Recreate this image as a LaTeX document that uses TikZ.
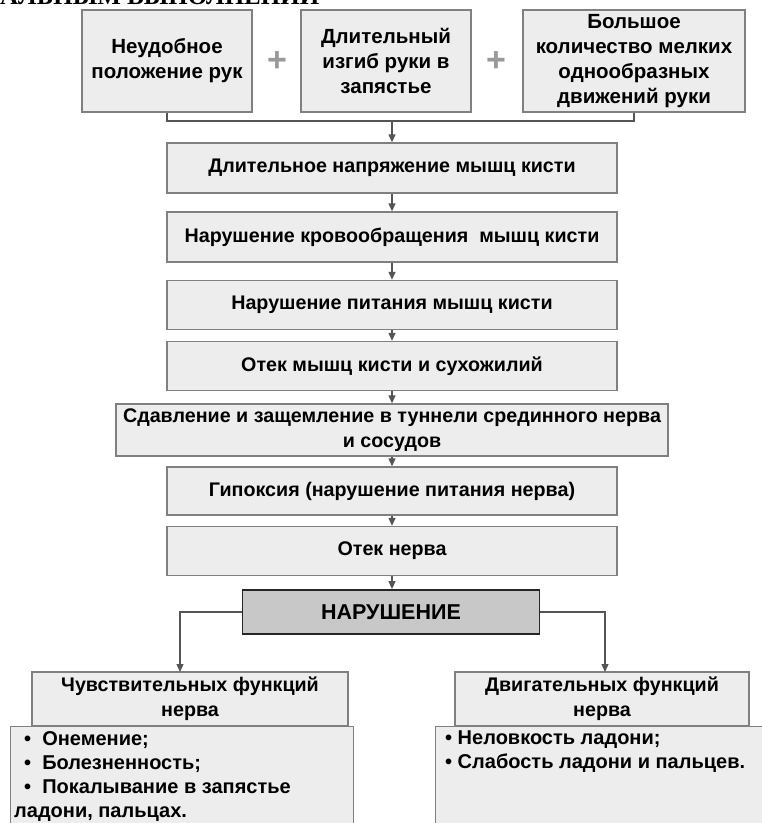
\documentclass[tikz,border=0pt]{standalone}
\usepackage{fontspec}
\setmainfont{Liberation Sans}
\newfontfamily\titlefont{Liberation Serif}
\usetikzlibrary{arrows.meta}
\definecolor{boxfill}{HTML}{EDEDED}
\definecolor{boxline}{HTML}{808080}
\definecolor{darkfill}{HTML}{C8C8C8}
\definecolor{arr}{HTML}{555555}
\tikzset{
  x=1pt, y=1pt,
  stepbox/.style={draw=boxline, fill=boxfill, line width=1.4pt, inner sep=2pt,
    align=center, font=\bfseries\fontsize{19.7}{25}\selectfont, text=black},
  topbox/.style={stepbox, font=\bfseries\fontsize{20.5}{25}\selectfont},
  keybox/.style={draw=black!85, fill=darkfill, line width=1.8pt, inner sep=2pt,
    align=center, font=\bfseries\fontsize{21.5}{24}\selectfont},
  listbox/.style={draw=boxline, fill=boxfill, line width=1.4pt},
  conn/.style={draw=arr, line width=1.3pt},
  arrow/.style={conn, -{Triangle[length=8pt,width=7pt]}},
  plus/.style={text=gray!80, font=\bfseries\fontsize{34}{34}\selectfont},
  listtext/.style={anchor=north west, align=left, inner sep=0pt,
    font=\bfseries\fontsize{20}{24}\selectfont}
}
\begin{document}
\begin{tikzpicture}
\useasboundingbox (0,0) rectangle (762,-823);
\clip (0,0) rectangle (762,-823);
% clipped heading remnant
\node[anchor=base west, inner sep=0pt, font=\titlefont\bfseries\fontsize{25}{25}\selectfont] (head) at (0,-4) {АЛЬНЫМ ВЫПОЛНЕНИИ};
% top causes
\node[topbox, minimum width=170, minimum height=102] (b1) at (167,-61) {Неудобное\\положение рук};
\node[topbox, minimum width=170, minimum height=102] (b2) at (386,-61) {Длительный\\изгиб руки в\\запястье};
\node[topbox, minimum width=222, minimum height=102] (b3) at (634,-61) {Большое\\количество мелких\\однообразных\\движений руки};
\node[plus] (p1) at (277,-62) {+};
\node[plus] (p2) at (496,-62) {+};
% chain
\node[stepbox, minimum width=450, minimum height=50] (b4) at (392,-168) {Длительное напряжение мышц кисти};
\node[stepbox, minimum width=450, minimum height=50] (b5) at (392,-237) {Нарушение кровообращения\ \ мышц кисти};
\node[stepbox, minimum width=450, minimum height=49] (b6) at (392,-305) {Нарушение питания мышц кисти};
\node[stepbox, minimum width=450, minimum height=49] (b7) at (392,-366) {Отек мышц кисти и сухожилий};
\node[stepbox, minimum width=552, minimum height=52] (b8) at (392,-430) {Сдавление и защемление в туннели срединного нерва\\и сосудов};
\node[stepbox, minimum width=450, minimum height=48] (b9) at (392,-491) {Гипоксия (нарушение питания нерва)};
\node[stepbox, minimum width=450, minimum height=49] (b10) at (392,-551) {Отек нерва};
\node[keybox, minimum width=297, minimum height=44] (b11) at (391,-612) {НАРУШЕНИЕ};
% branches
\node[stepbox, minimum width=316, minimum height=54] (b12) at (190,-699) {Чувствительных функций\\нерва};
\node[listbox, minimum width=343, minimum height=110, anchor=north west] (b13) at (10,-726) {};
\node[stepbox, minimum width=294, minimum height=54] (b14) at (602,-699) {Двигательных функций\\нерва};
\node[listbox, minimum width=340, minimum height=110, anchor=north west] (b15) at (435,-726) {};
\node[listtext] (t13) at (14,-731) {\hspace{10pt}•\ \ Онемение;\\\hspace{10pt}•\ \ Болезненность;\\\hspace{10pt}•\ \ Покалывание в запястье\\ладони, пальцах.};
\node[listtext] (t15) at (445,-731) {•\ Неловкость ладони;\\•\ Слабость ладони и пальцев.};
% connectors
\coordinate (br) at (392,-121);
\draw[conn] (b1.south) -- (b1.south |- br) -- (b3.south |- br) -- (b3.south);
\draw[arrow] (br) -- (b4.north);
\draw[arrow] (b4) -- (b5);
\draw[arrow] (b5) -- (b6);
\draw[arrow] (b6) -- (b7);
\draw[arrow] (b7) -- (b8);
\draw[arrow] (b8) -- (b9);
\draw[arrow] (b9) -- (b10);
\draw[arrow] (b10.south) -- (b10.south |- b11.north);
\coordinate (la) at (180,-672);
\coordinate (ra) at (605,-672);
\draw[arrow] (b11.west) -| (la);
\draw[arrow] (b11.east) -| (ra);
\end{tikzpicture}
\end{document}
